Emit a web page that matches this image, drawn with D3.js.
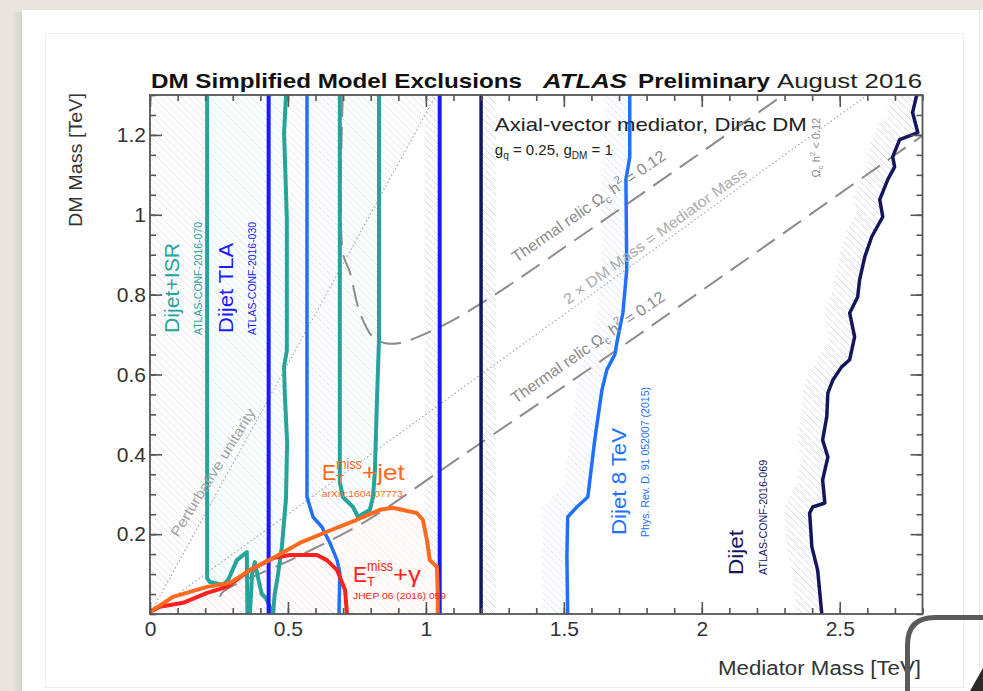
<!DOCTYPE html>
<html><head><meta charset="utf-8">
<script src="https://cdn.jsdelivr.net/npm/d3@7"></script>
<style>html,body{margin:0;padding:0;background:#e7e4de;} svg{display:block}</style>
</head><body>
<svg id="c" width="983" height="691"></svg>
<script>
// ---------- data (TeV) ----------
const xTicks = [0, 0.5, 1, 1.5, 2, 2.5];
const xMinor = d3.range(0, 2.81, 0.1);
const yTicks = [0.2, 0.4, 0.6, 0.8, 1, 1.2];
const yMinor = d3.range(0, 1.301, 0.05);

const isrLeft  = [[0.207,1.30],[0.207,0.090],[0.217,0.080],[0.264,0.073],[0.283,0.085],[0.315,0.135],[0.351,0.155],[0.353,0.0]];
const isrMid   = [[0.362,0.0],[0.370,0.10],[0.380,0.13],[0.392,0.09],[0.405,0.05],[0.420,0.04],[0.446,0.0]];
const isrRight = [[0.446,0.0],[0.452,0.05],[0.462,0.09],[0.478,0.168],[0.493,0.29],[0.497,0.43],[0.488,0.56],[0.486,0.62],[0.496,0.66],[0.496,0.99],[0.486,1.205],[0.493,1.30]];
const isrU     = [[0.688,1.30],[0.688,0.33],[0.699,0.293],[0.736,0.268],[0.754,0.243],[0.797,0.261],[0.808,0.293],[0.815,0.353],[0.822,0.52],[0.830,0.687],[0.830,1.30]];

const tlaLow = 0.43, tlaHigh = 1.05;

const dijet8Left  = [[0.569,1.30],[0.569,0.293],[0.572,0.286],[0.591,0.243],[0.623,0.218],[0.652,0.178],[0.678,0.135],[0.688,0.103],[0.685,0.0]];
const dijet8Right = [[1.514,0.0],[1.511,0.143],[1.514,0.243],[1.547,0.268],[1.587,0.293],[1.612,0.436],[1.638,0.561],[1.656,0.612],[1.685,0.65],[1.692,0.679],[1.714,0.754],[1.728,0.862],[1.725,1.088],[1.739,1.145],[1.739,1.30]];

const dijetLow = 1.20;
const dijetRight = [[2.779,1.30],[2.764,1.256],[2.783,1.206],[2.717,1.188],[2.692,1.145],[2.699,1.120],[2.674,1.088],[2.645,1.038],[2.656,0.995],[2.616,0.945],[2.591,0.895],[2.572,0.837],[2.565,0.794],[2.536,0.754],[2.554,0.694],[2.536,0.637],[2.507,0.619],[2.475,0.586],[2.457,0.554],[2.453,0.494],[2.438,0.436],[2.457,0.393],[2.438,0.336],[2.446,0.278],[2.402,0.268],[2.391,0.253],[2.399,0.168],[2.420,0.110],[2.435,0.0]];

const monojet = [[0,0.005],[0.083,0.043],[0.207,0.068],[0.29,0.078],[0.362,0.11],[0.446,0.14],[0.543,0.178],[0.641,0.206],[0.75,0.236],[0.833,0.261],[0.88,0.266],[0.967,0.253],[0.989,0.236],[1.004,0.185],[1.014,0.135],[1.04,0.118],[1.043,0.053],[1.043,0.0]];
const monophoton = [[0,0.005],[0.036,0.018],[0.12,0.028],[0.207,0.053],[0.279,0.068],[0.362,0.11],[0.446,0.14],[0.507,0.148],[0.605,0.148],[0.641,0.135],[0.678,0.11],[0.707,0.06],[0.714,0.0]];

const relicUpper = [[0.699,1.30],[0.699,0.905],[0.725,0.855],[0.761,0.754],[0.808,0.694],[0.85,0.679],[0.906,0.679],[1.051,0.719],[1.221,0.787],[1.558,0.945],[2.308,1.306]];
const relicLower = [[0.254,0.043],[0.264,0.055],[0.533,0.143],[0.779,0.231],[1.04,0.353],[1.232,0.444],[1.641,0.637],[2.779,1.188],[2.8,1.198]];
const unitarityLine = [[0,0],[1.037,1.30]];
const halfMassLine  = [[0,0],[2.6,1.30]];

// ---------- colours ----------
const C = {teal:"#25a39c", tla:"#1a1aff", d8:"#2070ff", navy:"#15155e", orange:"#ff6a1e", red:"#ff2020", gray:"#8c8c8c", axis:"#555"};

const svg = d3.select("#c");
const W = 983, H = 691;

// ---------- page decoration ----------
const defs = svg.append("defs");
const sh = defs.append("linearGradient").attr("id","sh").attr("x1","0").attr("x2","1");
sh.append("stop").attr("offset","0").attr("stop-color","#e7e4de");
sh.append("stop").attr("offset","1").attr("stop-color","#c9c6c0");
svg.append("rect").attr("x",0).attr("y",0).attr("width",W).attr("height",H).attr("fill","#e8e5df");
svg.append("rect").attr("x",12).attr("y",12).attr("width",12).attr("height",H).attr("fill","url(#sh)").attr("opacity",0.7);
svg.append("rect").attr("x",22).attr("y",10).attr("width",W-22).attr("height",H).attr("fill","#ffffff");
svg.append("line").attr("x1",979.5).attr("x2",979.5).attr("y1",10).attr("y2",H).attr("stroke","#ececec");
svg.append("rect").attr("x",45.5).attr("y",33.5).attr("width",918).attr("height",654).attr("fill","none").attr("stroke","#efefef");

// ---------- scales ----------
const x = d3.scaleLinear().domain([0, 2.8]).range([150, 922.5]);
const y = d3.scaleLinear().domain([0, 1.3]).range([614, 95]);
const line = d3.line().x(d => x(d[0])).y(d => y(d[1]));
const poly = pts => line(pts) + "Z";

// hatch patterns
function hatch(id, color, dir) {
  const p = defs.append("pattern").attr("id", id).attr("patternUnits","userSpaceOnUse").attr("width",7).attr("height",7);
  p.append("path").attr("d", dir > 0 ? "M-1,8 L8,-1 M-1,1 L1,-1 M6,8 L8,6" : "M-1,-1 L8,8 M-1,6 L1,8 M6,-1 L8,1")
    .attr("stroke", color).attr("stroke-width", 1).attr("fill","none");
}
hatch("hGray", "#e4e4e4", -1);
hatch("hTeal", "#cdeeec", -1);
hatch("hTla", "#d8d8ff", -1);
hatch("hD8", "#d6e5ff", -1);
hatch("hNavy", "#d8d8e6", -1);
hatch("hOrange", "#ffe2d2", -1);
hatch("hRed", "#ffd8d8", -1);

defs.append("clipPath").attr("id","plotClip").append("rect")
  .attr("x", x(0)).attr("y", y(1.3)).attr("width", x(2.8)-x(0)).attr("height", y(0)-y(1.3));

const g = svg.append("g").attr("clip-path","url(#plotClip)");

let clipN = 0;
function band(pts, regionPts, pat, w) {
  const id = "cl" + (clipN++);
  defs.append("clipPath").attr("id", id).append("path").attr("d", poly(regionPts));
  g.append("path").attr("d", line(pts)).attr("fill","none").attr("stroke","url(#"+pat+")")
    .attr("stroke-width", w).attr("clip-path","url(#"+id+")");
}

// perturbative unitarity region: full faint hatch
g.append("path").attr("d", poly([[0,0],unitarityLine[1],[0,1.3]])).attr("fill","url(#hGray)");

// hatch on excluded sides
const isrAll = isrLeft.concat(isrMid, isrRight);
g.append("path").attr("d", poly(isrAll)).attr("fill","url(#hTeal)");
g.append("path").attr("d", poly(isrU)).attr("fill","url(#hTeal)");
const tlaRegion = [[tlaLow,0],[tlaHigh,0],[tlaHigh,1.3],[tlaLow,1.3]];
band([[tlaHigh,0],[tlaHigh,1.3]], tlaRegion, "hTla", 30);
const d8Region = dijet8Left.concat(dijet8Right);
band(dijet8Left, d8Region, "hD8", 60);
band(dijet8Right, d8Region, "hD8", 50);
const navyRegion = [[dijetLow,0]].concat(dijetRight.slice().reverse(), [[dijetLow,1.3]]);
band([[dijetLow,0],[dijetLow,1.3]], navyRegion, "hNavy", 30);
band(dijetRight, navyRegion, "hNavy", 50);
g.append("path").attr("d", poly(monojet)).attr("fill","url(#hOrange)");
g.append("path").attr("d", poly(monophoton)).attr("fill","url(#hRed)");

// theory lines
g.append("path").attr("d", line(unitarityLine)).attr("fill","none").attr("stroke","#a8a8a8").attr("stroke-width",1.2).attr("stroke-dasharray","1.5,2.5");
g.append("path").attr("d", line(halfMassLine)).attr("fill","none").attr("stroke","#a8a8a8").attr("stroke-width",1.2).attr("stroke-dasharray","1.5,2.5");
const curvy = d3.line().x(d => x(d[0])).y(d => y(d[1])).curve(d3.curveCatmullRom);
g.append("path").attr("d", curvy(relicUpper)).attr("fill","none").attr("stroke",C.gray).attr("stroke-width",2).attr("stroke-dasharray","22,10");
g.append("path").attr("d", curvy(relicLower)).attr("fill","none").attr("stroke",C.gray).attr("stroke-width",2).attr("stroke-dasharray","22,10");

// exclusion contours
function contour(pts, color, w) {
  g.append("path").attr("d", line(pts)).attr("fill","none").attr("stroke",color).attr("stroke-width",w).attr("stroke-linejoin","round");
}
contour(isrLeft, C.teal, 4); contour(isrMid, C.teal, 4); contour(isrRight, C.teal, 4); contour(isrU, C.teal, 4);
contour([[tlaLow,0],[tlaLow,1.3]], C.tla, 4);
contour([[tlaHigh,0],[tlaHigh,1.3]], C.tla, 4);
contour(dijet8Left, C.d8, 3.5); contour(dijet8Right, C.d8, 3.5);
contour([[dijetLow,0],[dijetLow,1.3]], C.navy, 3.5);
contour(dijetRight, C.navy, 3.5);
contour(monophoton, C.red, 4);
contour(monojet, C.orange, 4);

// ---------- axes ----------
function styleAxis(sel) {
  sel.select(".domain").remove();
  sel.selectAll("line").attr("stroke", C.axis).attr("stroke-width", 1.6);
  sel.selectAll("text").attr("fill","#333").attr("font-family","'Liberation Sans', Arial, sans-serif").attr("font-size",21).attr("font-weight",500);
}
const ax = svg.append("g").attr("transform",`translate(0,${y(0)})`)
  .call(d3.axisBottom(x).tickValues(xTicks).tickSizeInner(-12).tickSizeOuter(0).tickPadding(7).tickFormat(d3.format("~g")));
styleAxis(ax);
const axm = svg.append("g").attr("transform",`translate(0,${y(0)})`)
  .call(d3.axisBottom(x).tickValues(xMinor).tickSizeInner(-6).tickSizeOuter(0).tickFormat(""));
styleAxis(axm);
const axt = svg.append("g").attr("transform",`translate(0,${y(1.3)})`)
  .call(d3.axisTop(x).tickValues(xTicks).tickSizeInner(-12).tickSizeOuter(0).tickFormat(""));
styleAxis(axt);
const axtm = svg.append("g").attr("transform",`translate(0,${y(1.3)})`)
  .call(d3.axisTop(x).tickValues(xMinor).tickSizeInner(-6).tickSizeOuter(0).tickFormat(""));
styleAxis(axtm);
const ay = svg.append("g").attr("transform",`translate(${x(0)},0)`)
  .call(d3.axisLeft(y).tickValues(yTicks).tickSizeInner(-12).tickSizeOuter(0).tickPadding(4).tickFormat(d3.format("~g")));
styleAxis(ay);
const aym = svg.append("g").attr("transform",`translate(${x(0)},0)`)
  .call(d3.axisLeft(y).tickValues(yMinor).tickSizeInner(-6).tickSizeOuter(0).tickFormat(""));
styleAxis(aym);
const ar = svg.append("g").attr("transform",`translate(${x(2.8)},0)`)
  .call(d3.axisRight(y).tickValues(yTicks).tickSizeInner(-12).tickSizeOuter(0).tickFormat(""));
styleAxis(ar);
const arm = svg.append("g").attr("transform",`translate(${x(2.8)},0)`)
  .call(d3.axisRight(y).tickValues(yMinor).tickSizeInner(-6).tickSizeOuter(0).tickFormat(""));
styleAxis(arm);
svg.append("rect").attr("x",x(0)).attr("y",y(1.3)).attr("width",x(2.8)-x(0)).attr("height",y(0)-y(1.3))
  .attr("fill","none").attr("stroke",C.axis).attr("stroke-width",1.8);

// ---------- texts ----------
const FF = "'Liberation Sans', Arial, Helvetica, sans-serif";
function txt(t, px, py, o = {}) {
  const e = svg.append("text").attr("x", px).attr("y", py).text(t)
    .attr("font-family", FF).attr("font-size", o.size || 16).attr("fill", o.fill || "#222")
    .attr("font-weight", o.weight || "normal").attr("font-style", o.style || "normal")
    .attr("text-anchor", o.anchor || "start");
  if (o.len) e.attr("textLength", o.len).attr("lengthAdjust","spacingAndGlyphs");
  if (o.rot !== undefined) e.attr("transform", `rotate(${o.rot},${px},${py})`);
  return e;
}
// title
txt("DM Simplified Model Exclusions", 151, 88, {size:21, weight:"bold", len:371, fill:"#111"});
txt("ATLAS", 543, 88, {size:21, weight:"bold", style:"italic", len:84, fill:"#111"});
txt("Preliminary", 638, 88, {size:21, weight:"bold", len:132, fill:"#111"});
txt("August 2016", 777, 88, {size:21, len:145, fill:"#222"});
// axis titles
txt("DM Mass [TeV]", 82, 93, {size:19, anchor:"end", rot:-90, len:134, fill:"#333"});
txt("Mediator Mass [TeV]", 921, 675, {size:20, anchor:"end", len:203, fill:"#333"});

// analysis labels (vertical)
function vlab(t, dx, dy, color, size, len) { txt(t, x(dx), y(dy), {size:size, fill:color, rot:-90, len:len}); }
vlab("Dijet+ISR", 0.105, 0.704, C.teal, 20, 90);
vlab("ATLAS-CONF-2016-070", 0.188, 0.699, C.teal, 10, 113);
vlab("Dijet TLA", 0.301, 0.704, C.tla, 20, 90);
vlab("ATLAS-CONF-2016-030", 0.384, 0.699, C.tla, 10, 113);
vlab("Dijet 8 TeV", 1.725, 0.198, C.d8, 20, 107);
vlab("Phys. Rev. D. 91 052007 (2015)", 1.808, 0.193, C.d8, 10, 150);
vlab("Dijet", 2.149, 0.098, C.navy, 20, 45);
vlab("ATLAS-CONF-2016-069", 2.236, 0.098, C.navy, 10, 115);

// MET labels
function metLab(dx, dy, color, tail, tailLen, ref, refLen) {
  const px = x(dx), py = y(dy);
  txt("E", px, py, {size:22, fill:color, len:14});
  txt("miss", px + 14, py - 11, {size:14, fill:color, len:26});
  txt("T", px + 14, py + 4, {size:13, fill:color});
  txt(tail, px + 40, py, {size:22, fill:color, len:tailLen});
  txt(ref, px, py + 17, {size:9, fill:color, len:refLen});
}
metLab(0.623, 0.336, C.orange, "+jet", 43, "arXiv:1604.07773", 81);
metLab(0.736, 0.080, C.red, "+γ", 28, "JHEP 06 (2016) 059", 93);

// model text
txt("Axial-vector mediator, Dirac DM", x(1.25), y(1.211), {size:19, len:312, fill:"#222"});
const gq = svg.append("text").attr("x", x(1.25)).attr("y", y(1.150)).attr("font-family",FF).attr("font-size",15).attr("fill","#222");
gq.append("tspan").text("g");
gq.append("tspan").text("q").attr("font-size",10).attr("dy",4);
gq.append("tspan").text(" = 0.25, g").attr("dy",-4);
gq.append("tspan").text("DM").attr("font-size",10).attr("dy",4);
gq.append("tspan").text(" = 1").attr("dy",-4);

// slanted theory labels
const angU = -Math.atan2(y(0)-y(1.2533), x(1)-x(0)) * 180/Math.PI;
const angH = -Math.atan2(y(0)-y(0.5), x(1)-x(0)) * 180/Math.PI;
const angR = -Math.atan2(y(0)-y(0.48), x(1)-x(0)) * 180/Math.PI;
txt("Perturbative unitarity", x(0.243), y(0.348), {size:14, fill:"#a0a0a0", anchor:"middle", rot:angU + 3, len:148});
txt("2 × DM Mass = Mediator Mass", x(1.841), y(0.937), {size:15, fill:"#acacac", anchor:"middle", rot:angH, len:222});
function relicLab(dx, dy) {
  const px = x(dx), py = y(dy);
  const t = svg.append("text").attr("x", px).attr("y", py).attr("font-family",FF).attr("font-size",16).attr("fill","#8a8a8a")
    .attr("text-anchor","middle").attr("transform",`rotate(${angR},${px},${py})`);
  t.append("tspan").text("Thermal relic Ω");
  t.append("tspan").text("c").attr("font-size",11).attr("dy",4);
  t.append("tspan").text(" h").attr("dy",-4);
  t.append("tspan").text("2").attr("font-size",11).attr("dy",-7);
  t.append("tspan").text(" = 0.12").attr("dy",7);
}
relicLab(1.601, 1.010);
relicLab(1.598, 0.657);
{
  const px = x(2.428), py = y(1.168);
  const t = svg.append("text").attr("x", px).attr("y", py).attr("font-family",FF).attr("font-size",11).attr("fill","#8a8a8a")
    .attr("text-anchor","middle").attr("transform",`rotate(-90,${px},${py})`);
  t.append("tspan").text("Ω");
  t.append("tspan").text("c").attr("font-size",8).attr("dy",3);
  t.append("tspan").text(" h").attr("dy",-3);
  t.append("tspan").text("2").attr("font-size",8).attr("dy",-5);
  t.append("tspan").text(" < 0.12").attr("dy",5);
}

// ---------- foreground decoration (photo frame corner) ----------
svg.append("path").attr("d","M907.5,691 V645 Q907.5,617.5 935,617.5 H983").attr("fill","none").attr("stroke","#5b5b5b").attr("stroke-width",5);
svg.append("path").attr("d","M970,691 L983,668 L983,691 Z").attr("fill","#2a2a2a");
</script>
</body></html>
